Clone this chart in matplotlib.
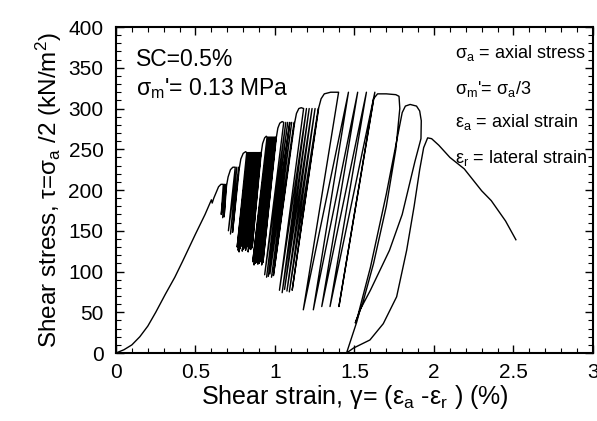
import numpy as np
import matplotlib.pyplot as plt
from matplotlib.ticker import MultipleLocator

plt.rcParams['font.family'] = ['Liberation Sans', 'DejaVu Sans']
plt.rcParams['mathtext.fontset'] = 'custom'
plt.rcParams['mathtext.rm'] = 'Liberation Sans'
plt.rcParams['mathtext.it'] = 'Liberation Sans'

# initial monotonic loading
bb_strain = [0.0, 0.05, 0.10, 0.15, 0.20, 0.25, 0.31, 0.37, 0.42, 0.50, 0.56, 0.60, 0.605, 0.615, 0.63]
bb_stress = [0, 4, 10, 20, 33, 50, 72, 93, 113, 146, 170, 188, 184, 190, 197]

# cyclic groups: peak level, rise to plateau, then peak / valley of each cycle
grp_peak_stress = [207, 228, 246, 265, 283, 300, 320]
grp_arc_strain = [[0.645, 0.66],
                  [0.695, 0.705, 0.72, 0.735],
                  [0.775, 0.785, 0.80, 0.815],
                  [0.913, 0.922, 0.935, 0.945],
                  [1.008, 1.018, 1.03, 1.045],
                  [1.123, 1.135, 1.15, 1.165],
                  [1.275, 1.29, 1.31, 1.35]]
grp_arc_stress = [[204, 207],
                  [205, 216, 225, 228],
                  [226, 238, 245, 247],
                  [245, 257, 264, 266],
                  [264, 276, 282, 284],
                  [282, 294, 300, 301],
                  [301, 312, 318, 320]]
grp_peak_strain = [[0.675, 0.683, 0.692],
                   [0.75, 0.76, 0.772],
                   [0.822, 0.829, 0.836, 0.843, 0.85, 0.857, 0.864, 0.871, 0.878, 0.885, 0.892, 0.899, 0.905, 0.911],
                   [0.95, 0.957, 0.964, 0.971, 0.978, 0.985, 0.992, 0.999, 1.006],
                   [1.055, 1.068, 1.08, 1.093, 1.105, 1.12],
                   [1.18, 1.198, 1.215, 1.233, 1.252, 1.272],
                   [1.40, 1.462, 1.52, 1.575, 1.628]]
grp_valley_strain = [[0.662, 0.671, 0.680],
                     [0.707, 0.72, 0.733],
                     [0.762, 0.768, 0.774, 0.78, 0.787, 0.794, 0.801, 0.808, 0.815, 0.823, 0.831, 0.839, 0.847, 0.856],
                     [0.86, 0.868, 0.876, 0.884, 0.892, 0.90, 0.908, 0.916, 0.924],
                     [0.935, 0.947, 0.958, 0.968, 0.978, 0.99],
                     [1.028, 1.045, 1.06, 1.075, 1.09, 1.108],
                     [1.178, 1.241, 1.294, 1.346, 1.402]]
grp_valley_stress = [[170, 166, 167],
                     [150, 146, 148],
                     [130, 126, 124, 128, 131, 125, 127, 129, 126, 130, 124, 128, 127, 129],
                     [112, 108, 110, 111, 109, 110, 112, 108, 111],
                     [96, 93, 94, 97, 93, 95],
                     [77, 74, 78, 76, 75, 77],
                     [53, 53, 57, 57, 57]]

# last big cycles, full unloading and post-peak softening
end_strain = [1.62, 1.645, 1.70, 1.76, 1.78, 1.785, 1.76, 1.70, 1.62, 1.55, 1.505,
              1.52, 1.60, 1.70, 1.77, 1.80, 1.82, 1.85, 1.89, 1.91, 1.92, 1.918,
              1.88, 1.80, 1.72, 1.60, 1.535, 1.514, 1.45,
              1.493, 1.597, 1.681, 1.765, 1.828, 1.875, 1.91, 1.935, 1.96, 1.985,
              2.03, 2.10, 2.19, 2.30, 2.36, 2.45, 2.515]
end_stress = [312, 318, 318, 317, 315, 300, 250, 180, 110, 60, 37,
              45, 105, 195, 265, 295, 303, 305, 303, 297, 285, 263,
              235, 170, 126, 77, 53, 38, 0,
              6, 16, 36, 69, 126, 180, 225, 252, 264, 263,
              255, 240, 226, 199, 187, 162, 139]

x = list(bb_strain)
y = list(bb_stress)
for g in range(len(grp_peak_stress)):
    x += grp_arc_strain[g]
    y += grp_arc_stress[g]
    for p, v, vs in zip(grp_peak_strain[g], grp_valley_strain[g], grp_valley_stress[g]):
        x += [p, v]
        y += [grp_peak_stress[g], vs]
x += end_strain
y += end_stress

fig = plt.figure(figsize=(5.97, 4.21), dpi=100)
ax = fig.add_axes([0.1943, 0.1615, 0.799, 0.7743])
ax.plot(x, y, color='black', lw=1.0)

ax.set_xlim(0, 3)
ax.set_ylim(0, 400)
ax.set_xticks([0, 0.5, 1, 1.5, 2, 2.5, 3])
ax.set_xticklabels(['0', '0.5', '1', '1.5', '2', '2.5', '3'])
ax.set_yticks(np.arange(0, 401, 50))
ax.xaxis.set_minor_locator(MultipleLocator(0.1))
ax.yaxis.set_minor_locator(MultipleLocator(10))
ax.tick_params(which='both', direction='in', top=True, right=True, labelsize=15)
ax.tick_params(axis='y', pad=9)
ax.tick_params(axis='x', pad=7)
ax.tick_params(which='major', length=6, width=1)
ax.tick_params(which='minor', length=3.5, width=0.8)
for s in ax.spines.values():
    s.set_linewidth(1.5)

ax.set_xlabel('Shear strain, γ= (ε$_{\\mathregular{a}}$ -ε$_{\\mathregular{r}}$ ) (%)', fontsize=18, labelpad=1)
ax.set_ylabel('Shear stress, τ=σ$_{\\mathregular{a}}$ /2 (kN/m$^{\\mathregular{2}}$)', fontsize=17.5, labelpad=3)

ax.text(0.042, 0.88, 'SC=0.5%', transform=ax.transAxes, fontsize=16.5)
ax.text(0.042, 0.79, "σ$_{\\mathregular{m}}$'= 0.13 MPa", transform=ax.transAxes, fontsize=16.5)

ax.text(0.71, 0.905, 'σ$_{\\mathregular{a}}$ = axial stress', transform=ax.transAxes, fontsize=13)
ax.text(0.71, 0.794, "σ$_{\\mathregular{m}}$'= σ$_{\\mathregular{a}}$/3", transform=ax.transAxes, fontsize=13)
ax.text(0.71, 0.693, 'ε$_{\\mathregular{a}}$ = axial strain', transform=ax.transAxes, fontsize=13)
ax.text(0.71, 0.583, 'ε$_{\\mathregular{r}}$ = lateral strain', transform=ax.transAxes, fontsize=13)

fig.savefig('out.png', dpi=100)
